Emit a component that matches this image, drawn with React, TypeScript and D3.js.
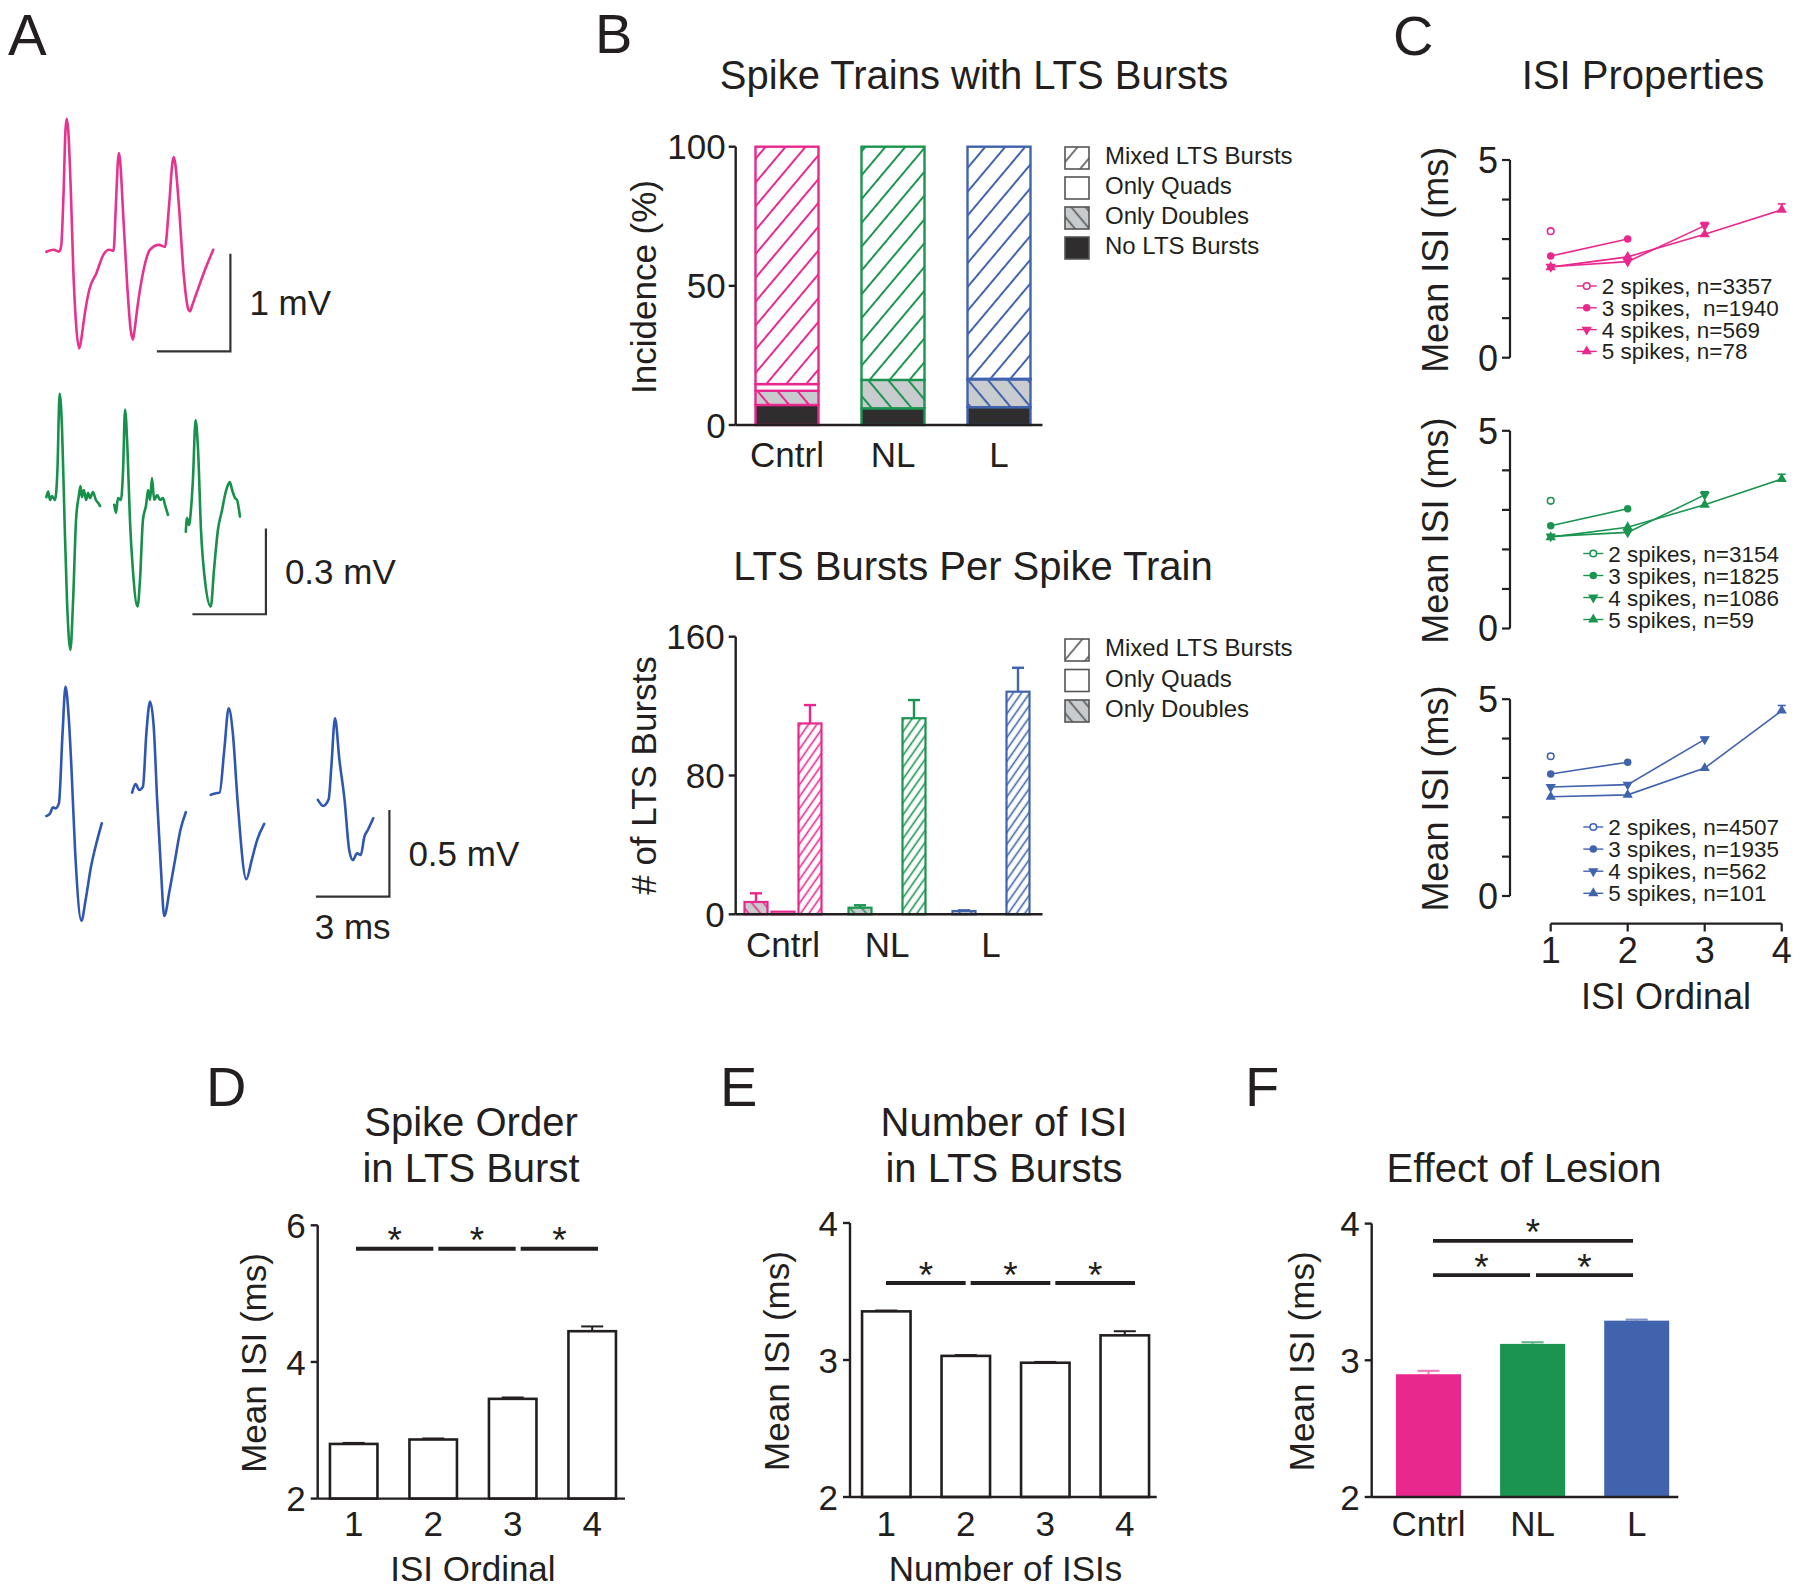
import React from 'react';
import * as d3 from 'd3';

const W = 1800, H = 1589;
const FONT = '"Liberation Sans", Arial, Helvetica, sans-serif';
const INK = '#231f20';
const PINK = '#E8288D';
const GREEN = '#1B9450';
const BLUE = '#4163AD';
const T_PINK = '#E6338F';
const T_GREEN = '#16904A';
const T_BLUE = '#2F56B0';
const GRAY_FILL = '#C9CCCE';
const DARK_FILL = '#2f2d2e';
const catColors = [PINK, GREEN, BLUE];

// ---------------- Panel A data: [time ms, voltage mV] ----------------
const pinkTrace: [number, number][] = [
  [0, 0], [0.29, 0.02], [0.51, 0], [0.6, 0.05], [0.7, 0.6], [0.78, 1.25], [0.83, 1.36], [0.89, 1.25], [1.0, 0.6],
  [1.1, -0.2], [1.2, -0.7], [1.34, -0.99], [1.45, -0.85], [1.53, -0.7], [1.75, -0.39], [2.04, -0.22], [2.33, -0.03],
  [2.56, 0.02], [2.74, 0.01], [2.84, 0.5], [2.92, 0.93], [2.96, 1.01], [3.01, 0.93], [3.13, 0.4], [3.3, -0.35],
  [3.44, -0.8], [3.53, -0.9], [3.6, -0.8], [3.72, -0.56], [3.94, -0.22], [4.23, 0.02], [4.59, 0.07], [4.84, 0.05],
  [5.0, 0.45], [5.15, 0.92], [5.2, 0.97], [5.26, 0.9], [5.4, 0.5], [5.61, -0.25], [5.78, -0.58], [5.86, -0.61],
  [5.95, -0.55], [6.12, -0.43], [6.42, -0.22], [6.81, 0.02],
];
const greenTraceSegs: [number, number][][] = [
  [[0, 0.01], [0.07, 0.03], [0.15, 0], [0.23, 0.014], [0.35, 0], [0.45, 0.105], [0.54, 0.373], [0.64, 0.245],
   [0.74, -0.07], [0.84, -0.35], [0.98, -0.525], [1.09, -0.35], [1.21, -0.07], [1.33, 0.018], [1.39, 0.049],
   [1.45, 0.01], [1.53, 0.035], [1.62, 0], [1.7, 0.025], [1.78, 0.007], [1.9, 0.028], [2.02, 0], [2.11, -0.01], [2.19, -0.021]],
  [[2.77, -0.017], [2.84, -0.045], [2.92, 0.007], [3.04, 0], [3.13, 0.105], [3.21, 0.317], [3.31, 0.175], [3.41, -0.07],
   [3.53, -0.245], [3.72, -0.373], [3.82, -0.28], [3.94, -0.07], [4.07, -0.017], [4.15, 0.035], [4.23, 0], [4.31, 0.077],
   [4.4, 0], [4.52, 0.017], [4.64, 0], [4.76, 0.007], [4.84, -0.017], [4.96, -0.052]],
  [[5.69, -0.111], [5.74, -0.063], [5.82, -0.0875], [5.9, -0.035], [5.98, 0.07], [6.09, 0.28], [6.19, 0.175], [6.31, -0.105],
   [6.47, -0.28], [6.71, -0.373], [6.84, -0.245], [7.0, -0.105], [7.17, -0.035], [7.29, 0.0175], [7.41, 0.0525], [7.49, 0.063],
   [7.58, 0.035], [7.7, 0.007], [7.78, 0], [7.9, -0.058]],
];
const blueTraceSegs: [number, number][][] = [
  [[0, 0], [0.15, 0.015], [0.27, 0.05], [0.37, 0.044], [0.51, 0.073], [0.66, 0.479], [0.78, 0.746], [0.91, 0.572],
   [1.02, 0.284], [1.17, -0.196], [1.43, -0.604], [1.6, -0.484], [1.82, -0.293], [2.04, -0.157], [2.26, -0.042]],
  [[3.5, 0.135], [3.64, 0.184], [3.79, 0.15], [3.94, 0.169], [4.08, 0.477], [4.23, 0.66], [4.38, 0.515], [4.52, 0.093],
   [4.67, -0.293], [4.81, -0.577], [5.03, -0.427], [5.25, -0.254], [5.47, -0.081], [5.69, 0.022]],
  [[6.71, 0.122], [6.93, 0.131], [7.07, 0.135], [7.26, 0.381], [7.44, 0.621], [7.61, 0.477], [7.8, 0.093], [8.16, -0.365],
   [8.38, -0.254], [8.6, -0.139], [8.89, -0.046]],
  [[11.08, 0.093], [11.3, 0.058], [11.52, 0.096], [11.63, 0.284], [11.78, 0.564], [11.96, 0.323], [12.17, 0.093],
   [12.36, -0.196], [12.51, -0.254], [12.68, -0.215], [12.83, -0.225], [12.98, -0.119], [13.12, -0.081], [13.34, -0.013]],
];
// scale bars: [corner time ms, corner voltage mV, length ms, height mV]
const pinkScaleBar = [7.51, -1.02, 3, 1];
const greenScaleBar = [8.96, -0.4, 3, 0.3];
const blueScaleBar = [14.0, -0.465, 3, 0.5];

// ---------------- Panel B data ----------------
const groups = ['Cntrl', 'NL', 'L'];
const incNoLTS = [7.2, 6.0, 6.4];
const incDoubles = [5.1, 10.2, 10.0];
const incQuads = [2.4, 0, 0.2];
const incMixed = [85.3, 83.8, 83.4];
const incTicks = [0, 50, 100];
const legendTop = ['Mixed LTS Bursts', 'Only Quads', 'Only Doubles', 'No LTS Bursts'];

const burstDoubles = [7.1, 3.8, 1.9];
const burstDoublesErr = [5.0, 1.4, 0.4];
const burstQuads = [1.5, 0, 0];
const burstMixed = [110, 113, 128.3];
const burstMixedErr = [10.6, 10.5, 13.8];
const burstTicks = [0, 80, 160];
const legendBottom = ['Mixed LTS Bursts', 'Only Quads', 'Only Doubles'];

// ---------------- Panel C data ----------------
const isiOrdinals = [1, 2, 3, 4];
const pinkISI = [[3.2], [2.57, 3.0], [2.3, 2.43, 3.34], [2.29, 2.55, 3.12, 3.74]];
const greenISI = [[3.23], [2.6, 3.03], [2.33, 2.43, 3.38], [2.31, 2.56, 3.13, 3.78]];
const blueISI = [[3.55], [3.1, 3.4], [2.77, 2.83, 3.98], [2.52, 2.57, 3.25, 4.71]];
const pinkLastErr = [0, 0, 0.08, 0.15];
const greenLastErr = [0, 0, 0.08, 0.12];
const blueLastErr = [0, 0, 0.05, 0.13];
const pinkLegend = ['2 spikes, n=3357', '3 spikes,  n=1940', '4 spikes, n=569', '5 spikes, n=78'];
const greenLegend = ['2 spikes, n=3154', '3 spikes, n=1825', '4 spikes, n=1086', '5 spikes, n=59'];
const blueLegend = ['2 spikes, n=4507', '3 spikes, n=1935', '4 spikes, n=562', '5 spikes, n=101'];

// ---------------- Panels D/E/F data ----------------
const dCats = [1, 2, 3, 4];
const dValues = [2.8, 2.865, 3.46, 4.45];
const dErr = [0.015, 0.015, 0.02, 0.07];
const dTicks = [2, 4, 6];

const eCats = [1, 2, 3, 4];
const eValues = [3.355, 3.03, 2.98, 3.18];
const eErr = [0.006, 0.006, 0.006, 0.03];
const eTicks = [2, 3, 4];

const fCats = ['Cntrl', 'NL', 'L'];
const fValues = [2.898, 3.12, 3.29];
const fErr = [0.025, 0.012, 0.008];
const fTicks = [2, 3, 4];

// ---------------- helpers ----------------
function YAxis({ x, scale, ticks, labels, tickLen = 7, gap = 4, fontSize = 35, sw = 2.4 }: any) {
  const [d0, d1] = scale.domain();
  return (
    <g>
      <line x1={x} x2={x} y1={scale(d0)} y2={scale(d1)} stroke={INK} strokeWidth={sw} />
      {ticks.map((t: number, i: number) => (
        <line key={'t' + i} x1={x - tickLen} x2={x} y1={scale(t)} y2={scale(t)} stroke={INK} strokeWidth={sw} />
      ))}
      {labels.map((t: number, i: number) => (
        <text key={'l' + i} x={x - tickLen - gap} y={scale(t)} dy="0.36em" textAnchor="end" fontSize={fontSize} fill={INK}>{t}</text>
      ))}
    </g>
  );
}

function YLabel({ x, y, text, fontSize = 35 }: any) {
  return <text transform={`translate(${x},${y}) rotate(-90)`} textAnchor="middle" dy="0.36em" fontSize={fontSize} fill={INK}>{text}</text>;
}

function Hatch({ id, color, bg, w, angle, sw }: any) {
  return (
    <pattern id={id} patternUnits="userSpaceOnUse" width={w} height={w} patternTransform={`rotate(${angle})`}>
      <rect x={0} y={0} width={w} height={w} fill={bg} />
      <line x1={w / 2} y1={-1} x2={w / 2} y2={w + 1} stroke={color} strokeWidth={sw} />
    </pattern>
  );
}

// ---------------- Panel A ----------------
const msScale = d3.scaleLinear().domain([0, 1]).range([46.4, 70.9]);
const pinkV = d3.scaleLinear().domain([0, 1]).range([251.7, 154]);
const greenV = d3.scaleLinear().domain([0, 0.3]).range([500, 414.3]);
const blueV = d3.scaleLinear().domain([0, 0.5]).range([816, 729.3]);

function Trace({ segs, v, color }: any) {
  const line = d3.line<[number, number]>().x(d => msScale(d[0])).y(d => v(d[1])).curve(d3.curveMonotoneX);
  return (
    <g>
      {segs.map((s: [number, number][], i: number) => (
        <path key={i} d={line(s) || ''} fill="none" stroke={color} strokeWidth={2.6} strokeLinejoin="round" strokeLinecap="round" />
      ))}
    </g>
  );
}

function ScaleBar({ bar, v, label, timeLabel }: any) {
  const [t, val, dt, dv] = bar;
  const x0 = msScale(t - dt), x1 = msScale(t), y0 = v(val), y1 = v(val + dv);
  return (
    <g>
      <path d={`M${x0},${y0}H${x1}V${y1}`} fill="none" stroke="#333" strokeWidth={2.2} />
      <text x={x1 + 19} y={(y0 + y1) / 2} dy="0.36em" fontSize={35} fill={INK}>{label}</text>
      {timeLabel && <text x={(x0 + x1) / 2} y={y0 + 42} textAnchor="middle" fontSize={35} fill={INK}>{timeLabel}</text>}
    </g>
  );
}

function PanelA() {
  return (
    <g>
      <text x={8} y={55} fontSize={58} fill={INK}>A</text>
      <Trace segs={[pinkTrace]} v={pinkV} color={T_PINK} />
      <ScaleBar bar={pinkScaleBar} v={pinkV} label="1 mV" />
      <Trace segs={greenTraceSegs} v={greenV} color={T_GREEN} />
      <ScaleBar bar={greenScaleBar} v={greenV} label="0.3 mV" />
      <Trace segs={blueTraceSegs} v={blueV} color={T_BLUE} />
      <ScaleBar bar={blueScaleBar} v={blueV} label="0.5 mV" timeLabel="3 ms" />
    </g>
  );
}

// ---------------- Panel B ----------------
function Legend({ items, fills, x, y0, step }: any) {
  return (
    <g>
      {items.map((t: string, i: number) => (
        <g key={i}>
          <rect x={x} y={y0 + i * step} width={24} height={22} fill={fills[i]} stroke="#555" strokeWidth={1.6} />
          <text x={x + 40} y={y0 + i * step + 17} fontSize={24} fill={INK}>{t}</text>
        </g>
      ))}
    </g>
  );
}

function PanelBTop() {
  const y = d3.scaleLinear().domain([0, 100]).range([425, 146.7]);
  const x = d3.scalePoint<string>().domain(groups).range([787, 999]);
  const rows = groups.map((g, i) => ({ g, noLTS: incNoLTS[i], doubles: incDoubles[i], quads: incQuads[i], mixed: incMixed[i] }));
  const keys = ['noLTS', 'doubles', 'quads', 'mixed'];
  const stack = d3.stack<any>().keys(keys)(rows);
  const bw = 63;
  const fillFor = (k: string, i: number) =>
    k === 'noLTS' ? DARK_FILL : k === 'doubles' ? `url(#dblT-${i})` : k === 'quads' ? '#fff' : `url(#mixT-${i})`;
  return (
    <g>
      <text x={595} y={53} fontSize={56} fill={INK}>B</text>
      <text x={974} y={89} textAnchor="middle" fontSize={40} fill={INK}>Spike Trains with LTS Bursts</text>
      {stack.map(layer => layer.map((d, i) => {
        const h = y(d[0]) - y(d[1]);
        if (h <= 0) return null;
        return (
          <rect key={layer.key + i} x={(x(groups[i]) as number) - bw / 2} y={y(d[1])} width={bw} height={h}
            fill={fillFor(layer.key, i)} stroke={catColors[i]} strokeWidth={2.4} />
        );
      }))}
      <line x1={735.7} x2={1042.5} y1={y(0)} y2={y(0)} stroke={INK} strokeWidth={2.4} />
      <YAxis x={735.7} scale={y} ticks={incTicks} labels={incTicks} gap={3} />
      <YLabel x={643.7} y={287} text="Incidence (%)" />
      {groups.map(g => (
        <text key={g} x={x(g)} y={467} textAnchor="middle" fontSize={35} fill={INK}>{g}</text>
      ))}
      <Legend items={legendTop} fills={['url(#legMix)', '#fff', 'url(#legDbl)', DARK_FILL]} x={1065} y0={147} step={30} />
    </g>
  );
}

function PanelBBottom() {
  const y = d3.scaleLinear().domain([0, 160]).range([914.3, 636.7]);
  const x = d3.scalePoint<string>().domain(groups).range([783, 991]);
  const bw = 23;
  const series = [
    { vals: burstDoubles, errs: burstDoublesErr, off: -27, fill: (i: number) => `url(#dblB-${i})` },
    { vals: burstQuads, errs: [0, 0, 0], off: 0, fill: () => '#fff' },
    { vals: burstMixed, errs: burstMixedErr, off: 27, fill: (i: number) => `url(#mixB-${i})` },
  ];
  return (
    <g>
      <text x={973} y={580} textAnchor="middle" fontSize={40} fill={INK}>LTS Bursts Per Spike Train</text>
      {series.map((s, si) => s.vals.map((v, i) => {
        if (v <= 0) return null;
        const cx = (x(groups[i]) as number) + s.off;
        const top = y(v);
        return (
          <g key={si + '-' + i}>
            {s.errs[i] > 0 && (
              <g stroke={catColors[i]} strokeWidth={2.4}>
                <line x1={cx} x2={cx} y1={top} y2={y(v + s.errs[i])} />
                <line x1={cx - 6} x2={cx + 6} y1={y(v + s.errs[i])} y2={y(v + s.errs[i])} />
              </g>
            )}
            <rect x={cx - bw / 2} y={top} width={bw} height={y(0) - top} fill={s.fill(i)} stroke={catColors[i]} strokeWidth={2.2} />
          </g>
        );
      }))}
      <line x1={735.7} x2={1042.5} y1={y(0)} y2={y(0)} stroke={INK} strokeWidth={2.4} />
      <YAxis x={735.7} scale={y} ticks={burstTicks} labels={burstTicks} gap={4} />
      <YLabel x={643.7} y={775.5} text="# of LTS Bursts" />
      {groups.map(g => (
        <text key={g} x={x(g)} y={957} textAnchor="middle" fontSize={35} fill={INK}>{g}</text>
      ))}
      <Legend items={legendBottom} fills={['url(#legMix)', '#fff', 'url(#legDbl)']} x={1065} y0={639} step={30.5} />
    </g>
  );
}

// ---------------- Panel C ----------------
const cX = d3.scaleLinear().domain([1, 4]).range([1550.7, 1781.7]);
const symDown = d3.symbol().type(d3.symbolTriangle).size(46);
const symUp = d3.symbol().type(d3.symbolTriangle).size(46);
const symCirc = d3.symbol().type(d3.symbolCircle).size(44);

function Marker({ kind, x, y, color }: any) {
  if (kind === 0) return <circle cx={x} cy={y} r={3.3} fill="#fff" stroke={color} strokeWidth={1.6} />;
  if (kind === 1) return <path d={symCirc() || ''} transform={`translate(${x},${y})`} fill={color} />;
  if (kind === 2) return <path d={symDown() || ''} transform={`translate(${x},${y}) rotate(180)`} fill={color} />;
  return <path d={symUp() || ''} transform={`translate(${x},${y})`} fill={color} />;
}

function CSub({ color, yRange, data, lastErr, legend, legX, legY0, legStep }: any) {
  const y = d3.scaleLinear().domain([0, 5]).range(yRange);
  const line = d3.line<number>().x((_, i) => cX(isiOrdinals[i])).y(d => y(d));
  const mid = (yRange[0] + yRange[1]) / 2;
  return (
    <g>
      <YAxis x={1510} scale={y} ticks={d3.range(0, 6)} labels={[0, 5]} tickLen={8} gap={4} fontSize={36} sw={2.2} />
      <YLabel x={1435} y={mid + 1} text="Mean ISI (ms)" fontSize={36} />
      {data.map((s: number[], k: number) => (
        <g key={k}>
          {s.length > 1 && <path d={line(s) || ''} fill="none" stroke={color} strokeWidth={1.6} />}
          {lastErr[k] > 0 && (() => {
            const xi = cX(isiOrdinals[s.length - 1]);
            const ye = y(s[s.length - 1] + lastErr[k]);
            return (
              <g stroke={color} strokeWidth={1.6}>
                <line x1={xi} x2={xi} y1={y(s[s.length - 1])} y2={ye} />
                <line x1={xi - 4} x2={xi + 4} y1={ye} y2={ye} />
              </g>
            );
          })()}
          {s.map((v, i) => <Marker key={i} kind={k} x={cX(isiOrdinals[i])} y={y(v)} color={color} />)}
        </g>
      ))}
      {legend.map((t: string, k: number) => {
        const by = legY0 + k * legStep;
        return (
          <g key={'lg' + k}>
            <line x1={legX - 25} x2={legX - 5} y1={by - 8} y2={by - 8} stroke={color} strokeWidth={1.4} />
            <Marker kind={k} x={legX - 15} y={by - 8} color={color} />
            <text x={legX} y={by} fontSize={22.5} fill={INK} style={{ whiteSpace: 'pre' }}>{t}</text>
          </g>
        );
      })}
    </g>
  );
}

function PanelC() {
  return (
    <g>
      <text x={1393} y={55} fontSize={56} fill={INK}>C</text>
      <text x={1643} y={89} textAnchor="middle" fontSize={40} fill={INK}>ISI Properties</text>
      <CSub color={PINK} yRange={[357.7, 160]} data={pinkISI} lastErr={pinkLastErr} legend={pinkLegend} legX={1601.7} legY0={294} legStep={21.8} />
      <CSub color={GREEN} yRange={[628.5, 430.8]} data={greenISI} lastErr={greenLastErr} legend={greenLegend} legX={1608.3} legY0={561.5} legStep={22} />
      <CSub color={BLUE} yRange={[896, 699.2]} data={blueISI} lastErr={blueLastErr} legend={blueLegend} legX={1608.3} legY0={835} legStep={22.1} />
      <line x1={cX(1)} x2={cX(4)} y1={923.7} y2={923.7} stroke={INK} strokeWidth={2.2} />
      {isiOrdinals.map(o => (
        <g key={o}>
          <line x1={cX(o)} x2={cX(o)} y1={923.7} y2={931.5} stroke={INK} strokeWidth={2.2} />
          <text x={cX(o)} y={963} textAnchor="middle" fontSize={36} fill={INK}>{o}</text>
        </g>
      ))}
      <text x={1666} y={1008.7} textAnchor="middle" fontSize={36} fill={INK}>ISI Ordinal</text>
    </g>
  );
}

// ---------------- Panels D/E/F ----------------
function BarPanel({ letter, letterX, titleLines, titleX, cats, values, errs, yDomain, yRange, xRange, axisX, axisEnd, barW,
  ticks, fills, errColors, sig, sigRange, sigPad, xLabel, yLabelX }: any) {
  const y = d3.scaleLinear().domain(yDomain).range(yRange);
  const x = d3.scalePoint<any>().domain(cats).range(xRange);
  const xs = d3.scalePoint<any>().domain(cats).range(sigRange);
  const base = y(yDomain[0]);
  return (
    <g>
      <text x={letterX} y={1106} fontSize={56} fill={INK}>{letter}</text>
      {titleLines.map((t: string, i: number) => (
        <text key={i} x={titleX} y={1182.3 - (titleLines.length - 1 - i) * 46.3} textAnchor="middle" fontSize={40} fill={INK}>{t}</text>
      ))}
      {cats.map((c: any, i: number) => {
        const cx = x(c) as number;
        const top = y(values[i]);
        const ye = y(values[i] + errs[i]);
        return (
          <g key={i}>
            <g stroke={errColors[i]} strokeWidth={2}>
              <line x1={cx} x2={cx} y1={top} y2={ye} />
              <line x1={cx - 11} x2={cx + 11} y1={ye} y2={ye} />
            </g>
            <rect x={cx - barW / 2} y={top} width={barW} height={base - top} fill={fills[i]}
              stroke={fills[i] === '#fff' ? INK : 'none'} strokeWidth={2.6} />
          </g>
        );
      })}
      <line x1={axisX} x2={axisEnd} y1={base} y2={base} stroke={INK} strokeWidth={2.4} />
      <YAxis x={axisX} scale={y} ticks={ticks} labels={ticks} gap={5} />
      <YLabel x={yLabelX} y={(yRange[0] + yRange[1]) / 2 + 1} text="Mean ISI (ms)" />
      {sig.map((s: number[], i: number) => {
        const x1 = (xs(cats[s[0]]) as number) + sigPad[0];
        const x2 = (xs(cats[s[1]]) as number) - sigPad[1];
        const ly = y(s[2]);
        return (
          <g key={'s' + i}>
            <line x1={x1} x2={x2} y1={ly} y2={ly} stroke={INK} strokeWidth={3.8} />
            <text x={(x1 + x2) / 2} y={ly + 4.5} textAnchor="middle" fontSize={37} fill={INK}>*</text>
          </g>
        );
      })}
      {cats.map((c: any, i: number) => (
        <text key={'c' + i} x={x(c) as number} y={1536.4} textAnchor="middle" fontSize={35} fill={INK}>{c}</text>
      ))}
      {xLabel && <text x={(xRange[0] + xRange[1]) / 2} y={1581} textAnchor="middle" fontSize={35} fill={INK}>{xLabel}</text>}
    </g>
  );
}

export default function App() {
  return (
    <svg xmlns="http://www.w3.org/2000/svg" width={W} height={H} viewBox={`0 0 ${W} ${H}`}
      style={{ position: 'absolute', left: 0, top: 0, background: '#fff' }} fontFamily={FONT}>
      <rect x={0} y={0} width={W} height={H} fill="#fff" />
      <defs>
        {catColors.map((c, i) => (
          <g key={i}>
            <Hatch id={`mixT-${i}`} color={c} bg="#fff" w={15.3} angle={40} sw={2} />
            <Hatch id={`dblT-${i}`} color={c} bg={GRAY_FILL} w={15.3} angle={-40} sw={2} />
            <Hatch id={`mixB-${i}`} color={c} bg="#fff" w={6.8} angle={35} sw={1.6} />
            <Hatch id={`dblB-${i}`} color={c} bg={GRAY_FILL} w={9} angle={-40} sw={1.6} />
          </g>
        ))}
        <Hatch id="legMix" color="#555" bg="#fff" w={16} angle={40} sw={1.6} />
        <Hatch id="legDbl" color="#555" bg={GRAY_FILL} w={11} angle={-40} sw={1.6} />
      </defs>
      <PanelA />
      <PanelBTop />
      <PanelBBottom />
      <PanelC />
      <BarPanel letter="D" letterX={206} titleLines={['Spike Order', 'in LTS Burst']} titleX={471}
        cats={dCats} values={dValues} errs={dErr} yDomain={[2, 6]} yRange={[1498.6, 1225.3]} xRange={[353.7, 592.2]}
        axisX={317.7} axisEnd={625} barW={47.5} ticks={dTicks} fills={['#fff', '#fff', '#fff', '#fff']}
        errColors={[INK, INK, INK, INK]} sig={[[0, 1, 5.657], [1, 2, 5.657], [2, 3, 5.657]]}
        sigRange={[355, 602]} sigPad={[1, 4]}
        xLabel="ISI Ordinal" yLabelX={253.3} />
      <BarPanel letter="E" letterX={720} titleLines={['Number of ISI', 'in LTS Bursts']} titleX={1004}
        cats={eCats} values={eValues} errs={eErr} yDomain={[2, 4]} yRange={[1497, 1223]} xRange={[886.3, 1124.8]}
        axisX={850} axisEnd={1156.7} barW={48.5} ticks={eTicks} fills={['#fff', '#fff', '#fff', '#fff']}
        errColors={[INK, INK, INK, INK]} sig={[[0, 1, 3.562], [1, 2, 3.562], [2, 3, 3.562]]}
        sigRange={[885, 1139]} sigPad={[1, 4]}
        xLabel="Number of ISIs" yLabelX={776.7} />
      <BarPanel letter="F" letterX={1245} titleLines={['Effect of Lesion']} titleX={1524}
        cats={fCats} values={fValues} errs={fErr} yDomain={[2, 4]} yRange={[1497, 1223.6]} xRange={[1428.5, 1636.7]}
        axisX={1371.7} axisEnd={1678.3} barW={65} ticks={fTicks} fills={[PINK, GREEN, BLUE]}
        errColors={['#f07ab6', '#5fb283', '#7d95c8']} sig={[[0, 2, 3.874], [0, 1, 3.623], [1, 2, 3.623]]}
        sigRange={[1433, 1639]} sigPad={[0, 6]}
        yLabelX={1301.7} />
    </svg>
  );
}
